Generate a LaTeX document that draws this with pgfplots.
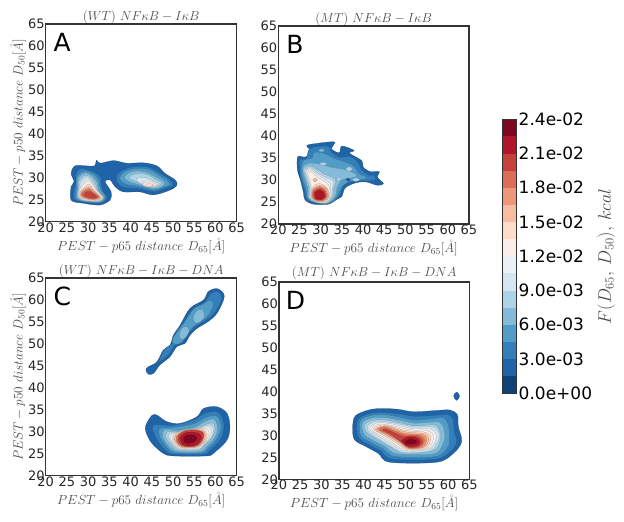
\RequirePackage{fix-cm}
\documentclass[border=0pt]{standalone}
\usepackage{fontspec}
\usepackage{pgfplots}
\pgfplotsset{compat=1.18}
\newfontfamily\dv{DejaVu Sans}
\definecolor{c0}{HTML}{0E4178}
\definecolor{c1}{HTML}{1F63A8}
\definecolor{c2}{HTML}{347FB9}
\definecolor{c3}{HTML}{529DC8}
\definecolor{c4}{HTML}{83BBD9}
\definecolor{c5}{HTML}{AED3E6}
\definecolor{c6}{HTML}{D3E6F1}
\definecolor{c7}{HTML}{EBF1F5}
\definecolor{c8}{HTML}{F9EEE8}
\definecolor{c9}{HTML}{FDDCC9}
\definecolor{c10}{HTML}{F8BDA0}
\definecolor{c11}{HTML}{EE9878}
\definecolor{c12}{HTML}{DC6D57}
\definecolor{c13}{HTML}{C6403E}
\definecolor{c14}{HTML}{AE172A}
\definecolor{c15}{HTML}{7E0723}
\definecolor{txt}{HTML}{4A4A4A}
\definecolor{frame}{HTML}{333333}
\pgfplotsset{
  lv/.style={fill=c#1, draw=black!30!c#1, line width=.22pt, smooth cycle, tension=.55, forget plot},
  panel/.style={
    scale only axis, anchor=south west,
    xmin=20, xmax=65, ymin=20, ymax=65,
    xtick={20,25,...,65}, ytick={20,25,...,65},
    major tick length=0pt,
    axis line style={frame, line width=1.3pt},
    /pgf/number format/assume math mode=true,
    tick label style={font=\dv\fontsize{13}{15}\selectfont, text=black!85},
    xticklabel style={yshift=2.5pt},
    yticklabel style={xshift=2.5pt},
    xlabel={$PEST - p65\ distance\ D_{65}[\mathring{A}]$},
    x label style={at={(axis description cs:0.5,-0.122)}, anchor=center, font=\fontsize{13.2}{15}\selectfont, text=txt},
    y label style={at={(axis description cs:-0.145,0.5)}, anchor=center, rotate=0, font=\fontsize{13.2}{15}\selectfont, text=txt},
    title style={anchor=center, yshift=-8pt, font=\fontsize{13}{15}\selectfont, text=txt},
    clip=true,
  },
  ylab/.style={ylabel={$PEST - p50\ distance\ D_{50}[\mathring{A}]$}},
}
\newcommand{\letter}[1]{\node[font=\dv\fontsize{25}{27}\selectfont, anchor=center, text=black] at (axis cs:23.9,60.8) {#1};}
\begin{document}
\begin{tikzpicture}
\path[use as bounding box] (0pt,0pt) rectangle (624pt,522pt);
% ---------- A
\begin{axis}[panel, ylab, at={(45.7pt,300.3pt)}, width=191pt, height=197.7pt,
  title={$(WT)\ NF\kappa B - I\kappa B$}, title style={at={(axis description cs:0.5,1.045)}}]
\addplot[lv=1] coordinates {(26,31)(26.9,32.7)(29.7,32.7)(31.5,32.7)(32,34)(32.8,33.3)(36,33.9)(39.1,33.3)(43,33.4)(46.2,32.7)(48.1,31)(50.5,29.5)(50.9,28.3)(49.3,27.2)(45.4,26.1)(42.2,26.8)(38.3,26.8)(36.3,28)(35.2,29.5)(34,29.1)(35.4,26.8)(35.2,25)(32.8,23.8)(28.9,24.2)(26,24.9)(26,28)(26.7,29.1)};
\addplot[lv=2] coordinates {(27,30.5)(28,32)(30,31.8)(32,31)(33,30)(33,29)(33.5,27)(34.5,25.5)(33,24.2)(29,24.5)(26.7,25.1)(26.7,27.5)(27.5,29.3)};
\addplot[lv=3] coordinates {(27.3,30.2)(28.8,31.5)(31,31)(32.4,29.7)(32.9,27.6)(34.1,25.6)(32.9,24.4)(29,24.6)(27.1,25.3)(27.2,27.5)};
\addplot[lv=4] coordinates {(27.7,30)(29.2,31.1)(31,30.4)(32.1,29)(32.5,27.2)(33.8,25.5)(32.7,24.5)(29,24.7)(27.4,25.4)(27.5,27.5)};
\addplot[lv=5] coordinates {(28,29.6)(29.5,30.6)(30.9,29.9)(31.8,28.5)(32.3,27)(33.6,25.5)(32.5,24.6)(29.1,24.8)(27.6,25.5)(27.7,27.5)};
\addplot[lv=6] coordinates {(28.3,29.2)(29.8,30.2)(30.9,29.3)(31.7,28.1)(32.2,27)(33.5,25.4)(32.4,24.7)(29.2,24.85)(27.8,25.5)(27.8,27.3)};
\addplot[lv=7] coordinates {(28.6,28.7)(30,29.7)(31,28.8)(31.7,27.7)(32.5,26.6)(33.5,25.4)(32.3,24.75)(29.3,24.9)(27.85,25.55)(27.85,27.1)};
\addplot[lv=8] coordinates {(28.8,28.3)(30,29.3)(31,28.4)(31.8,27.3)(32.8,26.3)(33.5,25.4)(32.3,24.8)(29.3,24.95)(27.9,25.6)(27.9,27)};
\addplot[lv=9] coordinates {(29.1,27.8)(30.1,28.6)(30.8,27.9)(31.5,27)(32.4,26.3)(33.2,25.4)(32,24.9)(29.5,25.1)(28,25.7)(28.1,26.8)};
\addplot[lv=10] coordinates {(29.2,27.5)(30.2,28)(31,27.4)(31.8,26.6)(32.9,25.5)(31.8,25)(29.6,25.2)(28.2,25.8)(28.3,26.7)};
\addplot[lv=11] coordinates {(29.2,27.2)(30.2,27.6)(31.2,26.8)(32.6,25.6)(31.6,25.1)(29.7,25.3)(28.4,25.9)(28.5,26.7)};
\addplot[lv=12] coordinates {(29.3,27)(30.2,27.3)(31.2,26.5)(32.4,25.6)(31.4,25.2)(29.8,25.4)(28.6,26)(28.7,26.6)};
\addplot[lv=13] coordinates {(29.6,26.8)(30.4,26.8)(31.4,26.2)(32,25.6)(31,25.4)(29.9,25.6)(29,26.1)};
\addplot[lv=2] coordinates {(37,31)(40,32.4)(44,32.5)(47,31)(49,29.8)(50,28.4)(48,27.5)(45.5,26.8)(42,27.5)(38.5,27.8)(36.8,29)};
\addplot[lv=3] coordinates {(38,31)(40.5,32)(44,32)(46.5,30.7)(48.5,29.5)(49.2,28.4)(47.5,27.8)(45.5,27.2)(42,28)(39,28.5)(37.5,29.5)};
\addplot[lv=4] coordinates {(39,30.8)(41,31.5)(43.5,31.3)(46,30.2)(48,29)(47.5,28)(45.5,27.5)(42.5,28.3)(40,29)(38.6,29.8)};
\addplot[lv=5] coordinates {(40,30.5)(42,31)(44,30.7)(46,29.6)(47.3,28.7)(45.5,27.7)(43,28.5)(41,29.2)(39.8,29.8)};
\addplot[lv=6] coordinates {(42,30)(43.5,30)(45.5,29.3)(46.7,28.6)(45.5,27.9)(43.5,28.2)(42,28.9)(41.3,29.6)};
\addplot[lv=7] coordinates {(43,29.2)(45,29.2)(46.2,28.5)(45.4,28)(43.6,28)(42.8,28.6)};
\addplot[lv=8] coordinates {(43.3,28.9)(45,29)(45.8,28.4)(45,28)(43.7,28)(42.9,28.4)};
\addplot[lv=9] coordinates {(43.7,28.6)(45,28.6)(45.3,28.3)(44.8,28)(44,28.1)(43.5,28.3)};
\letter{A}
\end{axis}
% ---------- B
\begin{axis}[panel, at={(278.3pt,298pt)}, width=190.7pt, height=198pt,
  title={$(MT)\ NF\kappa B - I\kappa B$}, title style={at={(axis description cs:0.5,1.044)}}]
\addplot[lv=1] coordinates {(26.7,37.8)(29,38.3)(33,38.7)(33.2,38.2)(32.6,37)(34.4,36.2)(35,37.7)(37.9,36.7)(36.8,36.1)(39.7,34.4)(40,33)(41.6,31.9)(43.8,31.9)(43.4,30.6)(44.8,29.2)(43.4,28.8)(40.5,29.6)(37.7,29.2)(35.7,28.1)(34.9,26.2)(32.6,25.1)(31.8,24.5)(28.3,24.5)(26.3,25.5)(25.9,27.3)(25.1,30.4)(24.5,32.3)(24.6,35.3)(26.3,35.2)(27.9,36.4)};
\addplot[lv=2] coordinates {(27.3,37)(29,37.6)(32,37.6)(32.5,36.3)(34.5,35.2)(37,35.3)(39,33.8)(39.5,32.5)(41.5,31)(42.5,31.2)(42.8,30)(41,29.8)(38,29.7)(35.5,28.8)(34.5,26.5)(32.3,24.65)(28.8,24.7)(26.7,25.6)(26.2,27.5)(25.2,31)(25,34.5)(26.5,34.8)};
\addplot[lv=3] coordinates {(25.5,33)(26,34.5)(28,35)(28.5,36.3)(31,36)(33,35)(36,34)(38,33)(39,31.5)(41,30.5)(39,30)(37,29.7)(35,28.5)(34,26.5)(32,24.75)(29,24.85)(27,25.7)(26.5,28)(25.5,31)};
\addplot[lv=4] coordinates {(25.7,32.7)(27,33.8)(30,33.6)(32,33)(35,32.5)(37,32)(38.5,31)(37,30.4)(35,30)(33.8,28)(33.5,26.3)(31.8,24.8)(29,24.9)(27.1,25.8)(27,28)(26,31)};
\addplot[lv=4] coordinates {(29.5,36.7)(30.2,37.1)(31,36.7)(30.2,36.4)};
\addplot[lv=5] coordinates {(29.7,33.6)(30.5,34)(31.5,33.7)(30.7,33.3)};
\addplot[lv=5] coordinates {(35.9,32.5)(36.7,33)(37.5,32.5)(36.7,32)};
\addplot[lv=5] coordinates {(37.5,30)(38.3,30.5)(39.2,30)(38.3,29.7)};
\addplot[lv=5] coordinates {(33.6,30.2)(34.2,30.7)(34.9,30.2)(34.2,29.8)};
\addplot[lv=1] coordinates {(36,30.1)(36.5,30.4)(37,30)(36.5,29.7)};
\addplot[lv=5] coordinates {(26,32.5)(27.5,33.2)(29,32.5)(31,31.3)(33,30.5)(33.6,29.5)(33,28)(33,26.5)(31.6,24.85)(29,24.95)(27.3,25.9)(27.3,28)(26.5,30.5)};
\addplot[lv=6] coordinates {(26.3,32.2)(27.6,32.8)(29,31.8)(31,30.7)(33,29.8)(32.8,28)(32.8,26.7)(31.5,24.9)(29,25)(27.5,26)(27.5,28)(26.8,30.5)};
\addplot[lv=7] coordinates {(26.5,32)(27.6,32.4)(29,31.3)(31,30.2)(32.3,29.2)(32.3,27.8)(32.5,26.7)(31.4,24.95)(29,25.05)(27.6,26.1)(27.8,28)(27.2,30)};
\addplot[lv=8] coordinates {(26.8,31.7)(27.6,32)(29,30.8)(30.8,29.8)(31.8,28.9)(32.3,27)(31.2,25)(28.9,25.1)(27.7,26.2)(27.8,28)(27.5,30)};
\addplot[lv=9] coordinates {(28,28.3)(29.6,29.2)(31.3,28.5)(32.1,26.6)(31,25.1)(28.8,25.2)(27.8,26.2)};
\addplot[lv=10] coordinates {(28.2,30)(28.7,30.4)(29.2,30)(28.7,29.6)};
\addplot[lv=10] coordinates {(28.1,27.9)(29.8,28.8)(31.4,28.1)(31.9,26.4)(30.8,25.2)(28.8,25.3)(27.9,26.3)};
\addplot[lv=11] coordinates {(28.2,27.7)(29.8,28.5)(31.2,27.8)(31.6,26.3)(30.6,25.3)(28.9,25.4)(28,26.3)};
\addplot[lv=12] coordinates {(28.3,27.5)(29.8,28.3)(31,27.6)(31.4,26.2)(30.4,25.4)(28.9,25.5)(28.2,26.3)};
\addplot[lv=13] coordinates {(28.5,27.3)(29.8,28)(30.9,27.3)(31.1,26.2)(30.2,25.5)(28.9,25.6)(28.4,26.3)};
\addplot[lv=14] coordinates {(28.7,27)(29.8,27.7)(30.7,27)(30.9,26.2)(30,25.6)(29,25.8)};
\letter{B}
\end{axis}
% ---------- C
\begin{axis}[panel, ylab, at={(45.7pt,46.3pt)}, width=191pt, height=197.7pt,
  title={$(WT)\ NF\kappa B - I\kappa B - DNA$}, title style={at={(axis description cs:0.5,1.045)}}]
\addplot[lv=1] coordinates {(43.6,44.1)(44.2,44.8)(46.2,45.9)(47.7,48.6)(49.3,49.7)(50.1,52)(51.7,54.3)(54,58.1)(57.2,60)(58.3,61.9)(60.3,62.6)(61.9,61.5)(61.9,60)(60.3,56.9)(58.3,55.1)(55.6,53.5)(54,52)(52.8,50.1)(50.9,49.4)(49.3,47.1)(46.9,45.2)(45.4,43.3)(44.2,43.1)};
\addplot[lv=2] coordinates {(46.7,46.2)(48,48.8)(49.7,50)(50.6,52)(52.2,54.3)(54.5,57.8)(57.5,59.5)(58.7,61.3)(60.2,62)(61.3,61.2)(61.4,60)(59.9,57.2)(57.9,55.5)(55.4,54)(53.6,52.3)(52.3,50.5)(50.6,49.9)(49,47.6)(47,46)(46.5,45.6)};
\addplot[lv=3] coordinates {(49.8,50.8)(51,52.8)(52.7,55)(54.9,58)(57,59)(58.7,60)(59.5,59)(58.7,57)(57.3,55.6)(55,54.1)(53.2,52)(52,50.3)(50.5,49.9)};
\addplot[lv=4] coordinates {(54.8,56)(55.5,57.5)(57,57.8)(57.3,56)(56,54.8)(55,55)};
\addplot[lv=4] coordinates {(51.5,52)(52,53.5)(53.2,54)(53.8,53)(53,51.5)(52,51)};
\addplot[lv=1] coordinates {(43.6,31.5)(45,33.7)(46.2,33.8)(48.5,32.3)(51.7,31.9)(55.6,33.4)(57.2,35.3)(60.3,35.7)(62.7,34.2)(63.4,31.2)(62.7,28.1)(59.5,25.1)(57.9,24.5)(50.1,24.5)(47.7,25.1)(45,27.4)(43.6,30)};
\addplot[lv=2] coordinates {(45.4,31.5)(50.1,31.5)(54.8,32.7)(57.5,34.2)(60.3,34.6)(61.7,33)(62,30.8)(61.1,28.1)(58.7,25.8)(57.2,24.9)(50.1,24.9)(48.1,25.8)(45.8,28.9)};
\addplot[lv=3] coordinates {(47,30.8)(50,31)(54.8,31.8)(57.5,33.2)(60,33.7)(61,32.7)(61.3,30.6)(60.3,28.3)(58.2,26.2)(56.8,25.2)(50.5,25.2)(48.7,26.3)(46.8,29)};
\addplot[lv=4] coordinates {(48,30.5)(51,30.3)(55,31)(57.8,32.5)(59.8,32.8)(60.5,30.6)(59.8,28.5)(57.8,26.5)(56.5,25.5)(51,25.5)(49,26.6)(47.5,29)};
\addplot[lv=5] coordinates {(48.7,30)(52,30)(55.2,30.7)(57.8,31.7)(59.5,32)(59.9,30.5)(59.2,28.6)(57.3,26.8)(56,25.8)(51.2,25.8)(49.6,27)(48.3,28.8)};
\addplot[lv=6] coordinates {(49.3,29.7)(52,29.9)(55.2,30.5)(57.8,31.4)(59.2,31.4)(59.5,30)(58.8,28.4)(57.2,26.9)(55.8,26)(51.4,26)(50,27.1)(49,28.6)};
\addplot[lv=7] coordinates {(49.6,29.5)(52,29.9)(55.3,30.4)(57.7,31.1)(58.8,30.8)(59,29.8)(58.4,28.3)(57,27)(55.6,26.2)(51.6,26.1)(50.2,27.1)(49.4,28.5)};
\addplot[lv=8] coordinates {(50,29.3)(52,30)(55.2,30.5)(57.6,30.8)(58.4,30.2)(58.4,29.2)(57.9,28.1)(56.7,27)(55.4,26.4)(51.7,26.2)(50.5,27.2)(49.8,28.5)};
\addplot[lv=9] coordinates {(50.3,29.2)(52.1,30.2)(55.2,30.6)(57.4,30.4)(58,29.5)(57.8,28.4)(56.6,27)(55.2,26.4)(51.8,26.4)(50.7,27.3)(50.1,28.4)};
\addplot[lv=10] coordinates {(50.5,29)(52.2,30.1)(55.1,30.55)(57.3,30.1)(57.6,29)(57.3,28)(56.2,26.9)(54.5,26.4)(52,26.5)(50.9,27.4)(50.3,28.3)};
\addplot[lv=11] coordinates {(50.7,28.8)(52.3,30)(55,30.45)(57.1,29.9)(57.3,28.8)(56.2,27)(54,26.5)(52,26.7)(51,27.5)};
\addplot[lv=12] coordinates {(50.9,28.7)(52.5,30.1)(55,30.4)(57,29.85)(57.1,28.6)(55.9,27)(53.9,26.55)(52,26.9)(51.1,27.6)};
\addplot[lv=13] coordinates {(51.2,28.6)(52.6,30)(55,30.3)(56.9,29.8)(57,28.5)(55.7,27)(53.8,26.6)(52,27)};
\addplot[lv=14] coordinates {(51.6,28.5)(52.8,29.7)(55,29.9)(56.5,29.2)(56.5,28.2)(55.4,27.1)(53.7,26.8)(52.3,27.2)};
\addplot[lv=15] coordinates {(52.5,28.4)(53.3,29.2)(54.8,29.2)(55.6,28.6)(55,27.7)(53.6,27.4)(52.6,27.8)};
\letter{C}
\end{axis}
% ---------- D
\begin{axis}[panel, at={(279pt,42.7pt)}, width=190.3pt, height=197.3pt,
  title={$(MT)\ NF\kappa B - I\kappa B - DNA$}, title style={at={(axis description cs:0.5,1.052)}}]
\addplot[lv=1] coordinates {(61.3,39)(62,39.9)(62.7,39)(62,38)};
\addplot[lv=1] coordinates {(37.7,33.9)(39.9,35.4)(43.1,36.1)(47.8,36)(51.8,35.4)(57.3,35.7)(60.4,35.8)(62.2,34.7)(62.4,32)(63.2,28.6)(61.2,25.9)(57.3,23.9)(46.2,23.9)(43.5,25.9)(40.7,27.4)(37.7,29.3)};
\addplot[lv=2] coordinates {(38.6,33.5)(41,34.9)(44,35.3)(48,35)(52,34.4)(57,34.6)(60,34.8)(61.2,33.5)(61.4,31)(62,28.6)(60.5,26.3)(57,24.6)(46.8,24.6)(44,26.5)(41,28)(38.7,29.7)};
\addplot[lv=3] coordinates {(39.2,33.3)(41.5,34.5)(44.5,34.8)(48,34.3)(52,33.5)(56,33.8)(59,34)(60,32.5)(60.3,30)(60,27.5)(57,25.2)(47.5,25.2)(44.5,27)(41.5,28.5)(39.3,30)};
\addplot[lv=4] coordinates {(39.8,33)(42,34)(45,34.1)(48.5,33.5)(52,32.8)(55.5,33)(58,33)(59,31.5)(59.2,29.5)(58.5,27.5)(56.5,25.8)(48,25.8)(45,27.5)(42,29)(40,30.4)};
\addplot[lv=5] coordinates {(40.4,32.7)(42.5,33.5)(45.5,33.5)(49,32.8)(52,32.2)(55.5,32.4)(57.3,32.2)(58.2,30.5)(58,28.5)(56.3,26.5)(49,26.2)(45.8,27.7)(42.7,29.4)(40.6,30.8)};
\addplot[lv=6] coordinates {(41,32.3)(43,33.2)(46,33)(49.5,32.4)(52,31.9)(55.3,32)(57.2,31.6)(57.9,30)(57.3,28.2)(55.6,26.5)(49.5,26.1)(46.4,27.6)(43.2,29.5)(41.1,31)};
\addplot[lv=7] coordinates {(41.4,32)(43.5,32.9)(46.2,32.7)(49.5,32)(52,31.5)(55,31.6)(56.8,31)(57.2,29.5)(56.5,27.8)(55.2,26.8)(49.8,26.4)(47,27.8)(43.8,29.7)(41.6,31.1)};
\addplot[lv=8] coordinates {(42,31.9)(44,32.6)(46.4,32.3)(49.5,31.6)(52,31.2)(54.7,31.2)(56.3,30.4)(56.4,28.7)(55,27)(50,26.6)(47.2,28.1)(44.3,29.8)(42.2,31)};
\addplot[lv=9] coordinates {(42.4,31.7)(44.5,32.4)(46.8,32)(49.5,31.2)(52,30.9)(54.3,30.8)(55.8,30)(55.7,28.4)(54.3,27)(50.3,26.8)(47.6,28.4)(44.8,30)(42.8,31.1)};
\addplot[lv=10] coordinates {(42.9,31.5)(45,32.2)(47,31.7)(49.5,30.9)(52,30.6)(54,30.5)(55.3,29.7)(55.2,28.3)(54,27.2)(50.5,27)(48,28.6)(45.2,30.1)(43.3,31)};
\addplot[lv=11] coordinates {(43.3,31.4)(45,32)(47.1,31.4)(49.5,30.5)(52,30.3)(53.8,30.2)(54.9,29.4)(54.7,28.2)(53.7,27.3)(50.7,27.1)(48.3,28.7)(45.7,30.2)};
\addplot[lv=12] coordinates {(43.8,31.3)(45.1,31.8)(47.2,31)(49.5,30.2)(52,30.1)(53.5,29.9)(54.4,29)(54,28)(53,27.3)(50.8,27.2)(48.7,28.7)(46.2,30.2)};
\addplot[lv=13] coordinates {(44.6,31.2)(45.3,31.4)(47.3,30.6)(49.3,29.8)(51.5,29.9)(53.2,29.5)(53.9,28.7)(53.5,27.9)(52.5,27.4)(50.8,27.3)(49,28.5)(46.7,30.2)};
\addplot[lv=14] coordinates {(49,28.8)(50.5,29.6)(52.3,29.5)(53.3,28.7)(52.8,27.8)(51,27.5)(49.6,28)};
\addplot[lv=15] coordinates {(49.8,28.6)(51,29.1)(52.3,28.9)(52.5,28.4)(51.5,28.1)(50.3,28.1)};
\letter{D}
\end{axis}
% ---------- colour bar
\begin{axis}[scale only axis, anchor=south west, at={(502.7pt,128.7pt)}, width=14pt, height=274pt,
  xmin=0, xmax=1, ymin=0, ymax=16, xtick=\empty, ytick={0,2,...,16},
  yticklabels={0.0e+00,3.0e-03,6.0e-03,9.0e-03,1.2e-02,1.5e-02,1.8e-02,2.1e-02,2.4e-02},
  ticklabel pos=right, major tick length=0pt,
  axis line style={frame, line width=1.1pt},
  axis on top,
  tick label style={font=\dv\fontsize{17}{19}\selectfont, text=black},
  yticklabel style={xshift=-1.5pt},
  ylabel={$F(D_{65},\,D_{50}),\,kcal$},
  y label style={at={(axis description cs:7.4,0.5)}, anchor=center, rotate=0, font=\fontsize{18}{20}\selectfont, text=txt}]
\addplot[fill=c0,draw=none] coordinates {(0,0)(1,0)(1,1)(0,1)} --cycle;
\addplot[fill=c1,draw=none] coordinates {(0,1)(1,1)(1,2)(0,2)} --cycle;
\addplot[fill=c2,draw=none] coordinates {(0,2)(1,2)(1,3)(0,3)} --cycle;
\addplot[fill=c3,draw=none] coordinates {(0,3)(1,3)(1,4)(0,4)} --cycle;
\addplot[fill=c4,draw=none] coordinates {(0,4)(1,4)(1,5)(0,5)} --cycle;
\addplot[fill=c5,draw=none] coordinates {(0,5)(1,5)(1,6)(0,6)} --cycle;
\addplot[fill=c6,draw=none] coordinates {(0,6)(1,6)(1,7)(0,7)} --cycle;
\addplot[fill=c7,draw=none] coordinates {(0,7)(1,7)(1,8)(0,8)} --cycle;
\addplot[fill=c8,draw=none] coordinates {(0,8)(1,8)(1,9)(0,9)} --cycle;
\addplot[fill=c9,draw=none] coordinates {(0,9)(1,9)(1,10)(0,10)} --cycle;
\addplot[fill=c10,draw=none] coordinates {(0,10)(1,10)(1,11)(0,11)} --cycle;
\addplot[fill=c11,draw=none] coordinates {(0,11)(1,11)(1,12)(0,12)} --cycle;
\addplot[fill=c12,draw=none] coordinates {(0,12)(1,12)(1,13)(0,13)} --cycle;
\addplot[fill=c13,draw=none] coordinates {(0,13)(1,13)(1,14)(0,14)} --cycle;
\addplot[fill=c14,draw=none] coordinates {(0,14)(1,14)(1,15)(0,15)} --cycle;
\addplot[fill=c15,draw=none] coordinates {(0,15)(1,15)(1,16)(0,16)} --cycle;
\end{axis}
\end{tikzpicture}
\end{document}
